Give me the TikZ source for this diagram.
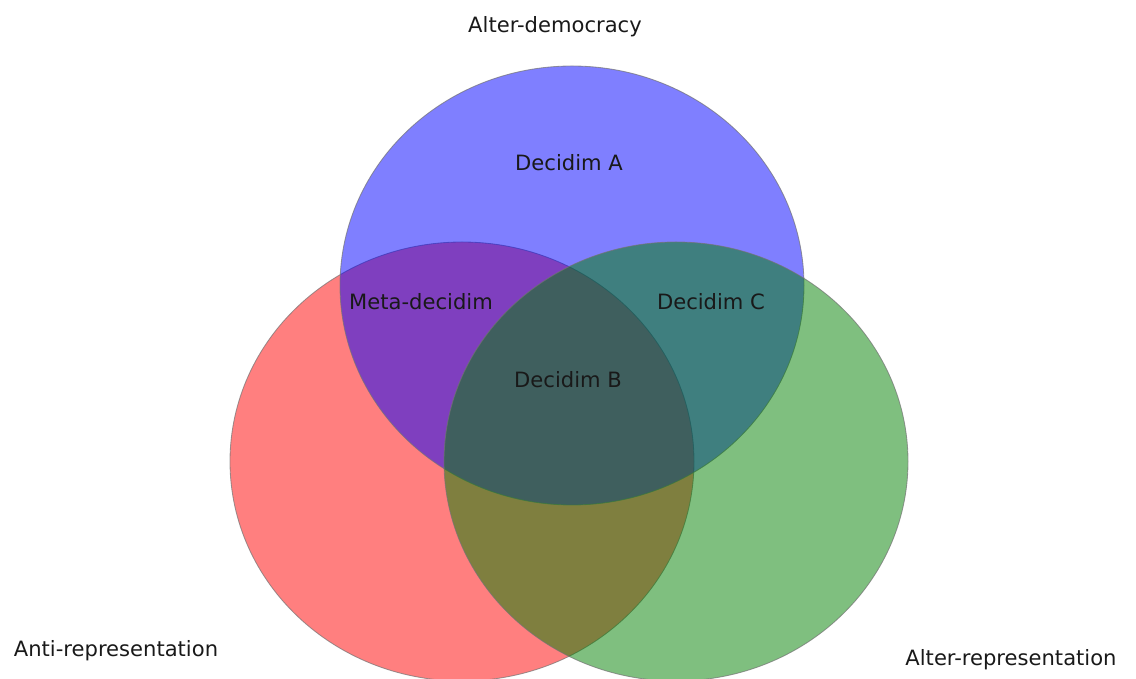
\documentclass[tikz,border=0pt]{standalone}
\usepackage{fontspec}
\setmainfont{DejaVu Sans}
\usetikzlibrary{calc}

\begin{document}
\begin{tikzpicture}[font=\fontsize{15}{18}\selectfont, line cap=round, line join=round,
  set/.style={fill opacity=0.5, draw=black!55, draw opacity=0.7, line width=0.6pt},
  lbl/.style={text=black!90, inner sep=0pt}]

% Khung hình
\useasboundingbox (0,0) rectangle (28.4,16.975);

% Tâm các tập hợp
\coordinate (R) at (11.55,5.4375);  % Anti-representation
\coordinate (U) at (14.3,9.8375);   % Alter-democracy
\coordinate (G) at (16.9,5.4375);   % Alter-representation

% Vẽ ba elip (thứ tự: đỏ, xanh dương, xanh lá)
\filldraw[set, fill=red] (R) ellipse (5.8 and 5.4875);
\filldraw[set, fill=blue] (U) ellipse (5.8 and 5.4875);
\filldraw[set, fill=green!50!black] (G) ellipse (5.8 and 5.4875);

% Nhãn các tập hợp
\node[lbl] (lU) at (13.875,16.3) {Alter-democracy};
\node[lbl] (lR) at (2.9,0.7) {Anti-representation};
\node[lbl] (lG) at (25.275,0.475) {Alter-representation};

% Nhãn các miền
\node[lbl] (dA) at (14.225,12.9) {Decidim A};
\node[lbl] (meta) at (10.525,9.425) {Meta-decidim};
\node[lbl] (dC) at (17.775,9.425) {Decidim C};
\node[lbl] (dB) at (14.2,7.475) {Decidim B};

\end{tikzpicture}
\end{document}
